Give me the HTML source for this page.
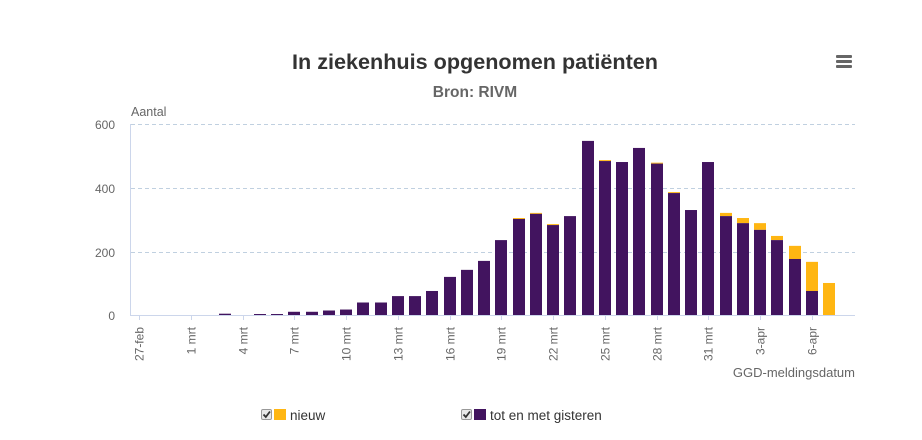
<!DOCTYPE html>
<html><head><meta charset="utf-8"><style>
html,body{margin:0;padding:0;background:#fff;}
svg{display:block;font-family:"Liberation Sans",sans-serif;}
</style></head><body>
<svg width="922" height="440" viewBox="0 0 922 440" xmlns="http://www.w3.org/2000/svg">
<rect width="922" height="440" fill="#fff"/>
<text x="475" y="69" text-anchor="middle" font-size="21.6" font-weight="bold" fill="#333">In ziekenhuis opgenomen patiënten</text>
<text x="475" y="97" text-anchor="middle" font-size="15.5" font-weight="bold" fill="#666">Bron: RIVM</text>
<g fill="#666"><rect x="836" y="55" width="16" height="3" rx="1"/><rect x="836" y="60" width="16" height="3" rx="1"/><rect x="836" y="65" width="16" height="3" rx="1"/></g>
<text x="131" y="116" font-size="12.5" fill="#666">Aantal</text>
<g stroke="#c0d0e0" stroke-width="1" stroke-dasharray="4,3">
<line x1="131" y1="124.5" x2="855" y2="124.5"/>
<line x1="131" y1="188.5" x2="855" y2="188.5"/>
<line x1="131" y1="252.5" x2="855" y2="252.5"/>
</g>
<g font-size="12" fill="#666" text-anchor="end">
<text x="115" y="129">600</text><text x="115" y="193">400</text><text x="115" y="257">200</text><text x="115" y="320">0</text>
</g>
<g id="bars"></g>
<line x1="130.5" y1="124" x2="130.5" y2="316" stroke="#ccd6eb"/>
<line x1="130" y1="315.5" x2="855" y2="315.5" stroke="#ccd6eb"/>
<g id="ticks"></g>
<text x="855" y="377" text-anchor="end" font-size="13" fill="#666">GGD-meldingsdatum</text>
<g>
<rect x="261.5" y="409.5" width="10" height="10" rx="1.5" fill="#e8e8e8" stroke="#999"/>
<path d="M263.5 414.5 L265.8 417 L270 411.5" stroke="#333" stroke-width="1.8" fill="none"/>
<rect x="274" y="409" width="12" height="11" fill="#ffb612"/>
<text x="290" y="420" font-size="13.5" fill="#333">nieuw</text>
<rect x="461.5" y="409.5" width="10" height="10" rx="1.5" fill="#e8e8e8" stroke="#999"/>
<path d="M463.5 414.5 L465.8 417 L470 411.5" stroke="#333" stroke-width="1.8" fill="none"/>
<rect x="474" y="409" width="12" height="11" fill="#42145f"/>
<text x="490" y="420" font-size="13.5" fill="#333">tot en met gisteren</text>
</g>
</svg>
<script>
(function(){
var ns="http://www.w3.org/2000/svg";
var data={5:[5,5],7:[4,4],8:[4,4],9:[11,11],10:[11,11],11:[15,15],12:[18,18],13:[40,40],14:[40,40],15:[60,60],16:[60,60],17:[76,76],18:[120,120],19:[142,142],20:[170,170],21:[235,235],22:[301,304],23:[317,320],24:[282,285],25:[310,310],26:[545,545],27:[482,485],28:[479,479],29:[523,523],30:[474,477],31:[382,385],32:[329,329],33:[479,479],34:[310,320],35:[288,304],36:[267,288],37:[235,248],38:[176,217],39:[76,167],40:[0,101]};
var bars=document.getElementById("bars"),ticks=document.getElementById("ticks");
var zero=315.3,k=0.32,w=17.25,x0=130.5;
function rect(x,y,wd,h,f){var r=document.createElementNS(ns,"rect");r.setAttribute("x",x);r.setAttribute("y",y);r.setAttribute("width",wd);r.setAttribute("height",h);r.setAttribute("fill",f);bars.appendChild(r);}
for(var i in data){var c=x0+w*(+i+0.5);var p=data[i][0],t=data[i][1];var bx=Math.round(c-6);
 if(t>p){rect(bx,zero-t*k,12,(t-p)*k,"#ffb612");}
 if(p>0){rect(bx,zero-p*k,12,p*k,"#42145f");}}
var labels=["27-feb","1 mrt","4 mrt","7 mrt","10 mrt","13 mrt","16 mrt","19 mrt","22 mrt","25 mrt","28 mrt","31 mrt","3-apr","6-apr"];
for(var j=0;j<labels.length;j++){var idx=j*3;var c=Math.round(x0+w*(idx+0.5))+0.5;
 var l=document.createElementNS(ns,"line");l.setAttribute("x1",c);l.setAttribute("x2",c);l.setAttribute("y1",316);l.setAttribute("y2",320);l.setAttribute("stroke","#ccd6eb");ticks.appendChild(l);
 var tx=document.createElementNS(ns,"text");var bxp=c+4;tx.setAttribute("x",bxp);tx.setAttribute("y",327);tx.setAttribute("text-anchor","end");tx.setAttribute("font-size","12");tx.setAttribute("fill","#666");tx.setAttribute("transform","rotate(-90 "+bxp+" 327)");tx.textContent=labels[j];ticks.appendChild(tx);}
})();
</script>
</body></html>
